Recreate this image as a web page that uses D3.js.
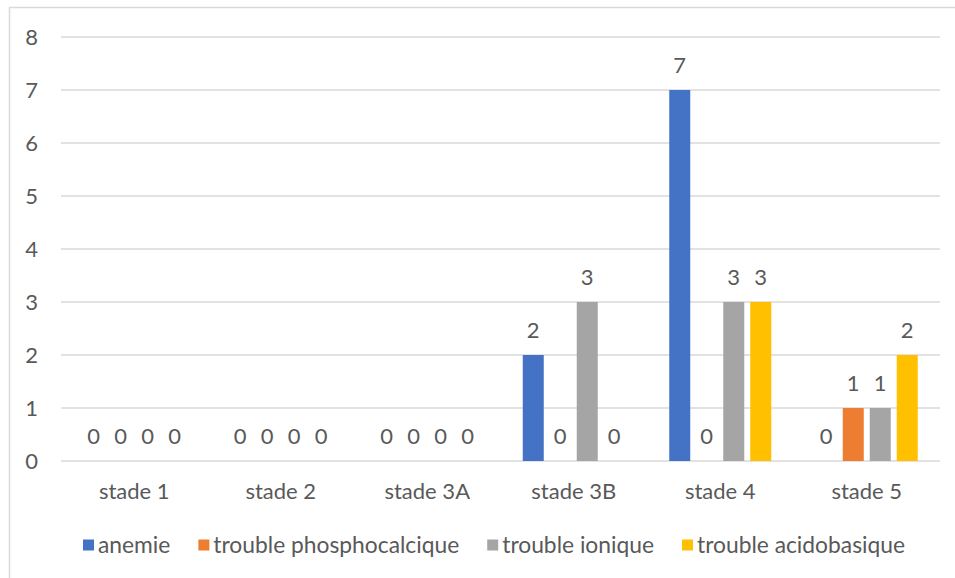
<!DOCTYPE html>
<html>
<head>
<meta charset="utf-8">
<script src="https://cdn.jsdelivr.net/npm/d3@7"></script>
<style>
  html, body { margin: 0; padding: 0; background: #fff; }
  svg { display: block; }
  text { font-family: Lato, "Open Sans", sans-serif; fill: #595959; }
</style>
</head>
<body>
<svg id="chart" width="955" height="578"></svg>
<script>
// Categories (CKD stages) and one array per series
const categories = ["stade 1", "stade 2", "stade 3A", "stade 3B", "stade 4", "stade 5"];
const anemie = [0, 0, 0, 2, 7, 0];
const phosphocalcique = [0, 0, 0, 0, 0, 1];
const ionique = [0, 0, 0, 3, 3, 1];
const acidobasique = [0, 0, 0, 0, 3, 2];
const seriesNames = ["anemie", "trouble phosphocalcique", "trouble ionique", "trouble acidobasique"];
const yTicks = [0, 1, 2, 3, 4, 5, 6, 7, 8];

const seriesValues = [anemie, phosphocalcique, ionique, acidobasique];
const colors = ["#4472C4", "#ED7D31", "#A5A5A5", "#FFC000"];

const svg = d3.select("#chart");
const plot = { left: 61, right: 940, top: 37, bottom: 461 };
const fontSize = 22;
const legendFontSize = 22.8;

// chart frame
svg.append("rect")
  .attr("x", 9.5).attr("y", 7.5)
  .attr("width", 1000).attr("height", 1000)
  .attr("fill", "none").attr("stroke", "#d9d9d9").attr("stroke-width", 1.5);

const y = d3.scaleLinear().domain([0, 8]).range([plot.bottom, plot.top]);
const x0 = d3.scaleBand().domain(categories).range([plot.left, plot.right]).padding(0);
const groupW = 102;
const x1 = d3.scaleBand().domain(d3.range(seriesNames.length))
  .range([(x0.bandwidth() - groupW) / 2, (x0.bandwidth() + groupW) / 2])
  .paddingInner(0.222).paddingOuter(0);

// gridlines
svg.append("g").selectAll("line").data(yTicks).join("line")
  .attr("x1", plot.left).attr("x2", plot.right)
  .attr("y1", d => y(d)).attr("y2", d => y(d))
  .attr("stroke", "#d9d9d9").attr("stroke-width", 1.5);

// y tick labels
svg.append("g").selectAll("text").data(yTicks).join("text")
  .attr("x", 38).attr("y", d => y(d)).attr("dy", "0.36em")
  .attr("text-anchor", "end").attr("font-size", fontSize)
  .text(d => d);

// bars and value labels
const flat = [];
categories.forEach((c, i) => {
  seriesValues.forEach((vals, s) => flat.push({ cat: c, s, v: vals[i] }));
});

svg.append("g").selectAll("rect").data(flat.filter(d => d.v > 0)).join("rect")
  .attr("x", d => x0(d.cat) + x1(d.s))
  .attr("y", d => y(d.v))
  .attr("width", x1.bandwidth())
  .attr("height", d => y(0) - y(d.v))
  .attr("fill", d => colors[d.s]);

svg.append("g").selectAll("text").data(flat).join("text")
  .attr("x", d => x0(d.cat) + x1(d.s) + x1.bandwidth() / 2)
  .attr("y", d => y(d.v) - 17)
  .attr("text-anchor", "middle").attr("font-size", fontSize)
  .text(d => d.v);

// category labels
svg.append("g").selectAll("text").data(categories).join("text")
  .attr("x", d => x0(d) + x0.bandwidth() / 2)
  .attr("y", 499)
  .attr("text-anchor", "middle").attr("font-size", fontSize)
  .text(d => d);

// legend
const legend = svg.append("g");
const items = legend.selectAll("g").data(seriesNames).join("g");
items.append("rect").attr("width", 11).attr("height", 11).attr("y", -5.5)
  .attr("fill", (d, i) => colors[i]);
items.append("text").attr("x", 15).attr("dy", "0.36em")
  .attr("font-size", legendFontSize).text(d => d);
let cx = 0;
const offsets = [];
items.each(function () {
  const tw = d3.select(this).select("text").node().getComputedTextLength();
  offsets.push(cx);
  cx += 15 + tw + 28;
});
const totalW = cx - 28;
const startX = 494 - totalW / 2;
items.attr("transform", (d, i) => `translate(${startX + offsets[i]},545)`);
</script>
</body>
</html>
